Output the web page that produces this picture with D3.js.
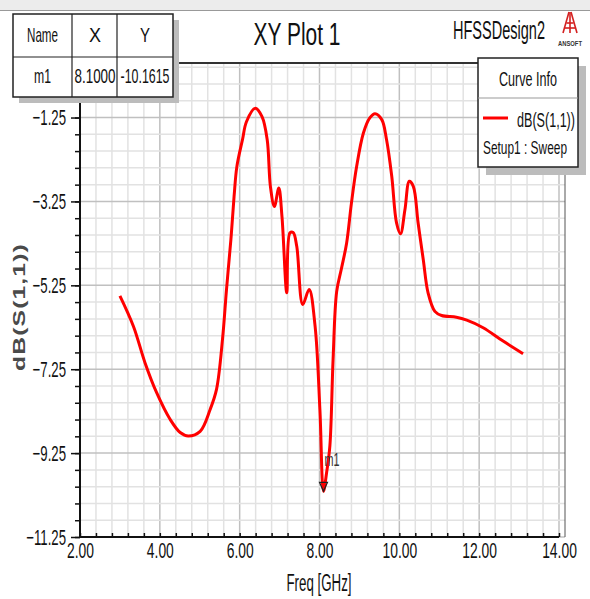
<!DOCTYPE html>
<html>
<head>
<meta charset="utf-8">
<script src="https://cdn.jsdelivr.net/npm/d3@7"></script>
<style>
  body { margin: 0; background: #fff; }
  svg { display: block; }
</style>
</head>
<body>
<svg id="chart"></svg>
<script>
// S11 curve
const freq = [3.00, 3.34, 3.63, 3.92, 4.26, 4.51, 4.71, 5.01, 5.26, 5.42, 5.57, 5.67, 5.78, 5.86, 5.93, 6.07, 6.17,
  6.39, 6.56, 6.69, 6.77, 6.87, 6.98, 7.06, 7.18, 7.26, 7.34, 7.43, 7.58, 7.74, 7.89, 8.01, 8.10, 8.18, 8.26,
  8.34, 8.43, 8.55, 8.68, 8.80, 8.93, 9.10, 9.26, 9.39, 9.56, 9.68, 9.81, 9.93, 10.03, 10.14, 10.25, 10.35,
  10.47, 10.60, 10.72, 10.89, 11.06, 11.43, 11.69, 12.10, 12.60, 13.10];
const s11 = [-5.50, -6.23, -7.10, -7.81, -8.45, -8.76, -8.84, -8.73, -8.21, -7.73, -6.54, -5.35, -4.16, -3.13, -2.42, -1.78, -1.35,
  -1.03, -1.23, -1.78, -2.89, -3.37, -2.93, -3.61, -5.43, -4.00, -3.99, -4.32, -5.71, -5.35, -6.23, -8.21, -10.16, -9.70, -9.08,
  -7.02, -5.40, -4.85, -4.24, -3.29, -2.42, -1.62, -1.26, -1.16, -1.30, -1.78, -2.65, -3.76, -4.02, -3.45, -2.77, -2.89,
  -3.76, -4.64, -5.43, -5.87, -5.97, -6.01, -6.08, -6.26, -6.58, -6.88];

const xTicks = [2, 4, 6, 8, 10, 12, 14];
const yTicks = [-1.25, -3.25, -5.25, -7.25, -9.25, -11.25];
const markerNames = ["m1"];
const markerX = [8.1];
const markerY = [-10.1615];

const W = 590, H = 599;
const pLeft = 80, pRight = 559, frameRight = 565, pTop = 63, pBottom = 537;
const font = "'Liberation Sans', Arial, sans-serif";

const svg = d3.select("#chart").attr("width", W).attr("height", H);

// the original uses a narrow font, so squeeze the glyphs horizontally
function squeeze(sel, k) {
  sel.each(function() {
    const len = this.getComputedTextLength();
    d3.select(this).attr("textLength", len * k).attr("lengthAdjust", "spacingAndGlyphs");
  });
  return sel;
}
// text squeezed to a given width in px
function label(parent, x0, y0, txt, size, w, anchor) {
  return parent.append("text").attr("x", x0).attr("y", y0).attr("text-anchor", anchor || "start")
    .attr("font-family", font).attr("font-size", size).attr("fill", "#111")
    .attr("textLength", w).attr("lengthAdjust", "spacingAndGlyphs").text(txt);
}

const x = d3.scaleLinear().domain([2, 14]).range([pLeft, pRight]);
const y = d3.scaleLinear().domain([-11.25, 0.05]).range([pBottom, pTop]);

// top grey band
svg.append("rect").attr("x", 0).attr("y", 0).attr("width", W).attr("height", 10).attr("fill", "#ececec");
svg.append("line").attr("x1", 0).attr("x2", W).attr("y1", 10.5).attr("y2", 10.5).attr("stroke", "#999");

// grid
const minorX = d3.range(2, 14.001, 0.4);
const minorY = d3.range(-11.25, 0.06, 0.4);
svg.append("g").selectAll("line").data(minorX).enter().append("line")
  .attr("x1", d => x(d)).attr("x2", d => x(d)).attr("y1", pTop).attr("y2", pBottom)
  .attr("stroke", d => xTicks.some(t => Math.abs(t - d) < 1e-6) ? "#c0c0c0" : "#e2e2e2")
  .attr("stroke-width", 1.5);
svg.append("g").selectAll("line").data(minorY).enter().append("line")
  .attr("x1", pLeft).attr("x2", frameRight).attr("y1", d => y(d)).attr("y2", d => y(d))
  .attr("stroke", d => yTicks.some(t => Math.abs(t - d) < 1e-6) ? "#c0c0c0" : "#e2e2e2")
  .attr("stroke-width", 1.5);

// frame
svg.append("line").attr("x1", pLeft).attr("x2", frameRight).attr("y1", pTop).attr("y2", pTop)
  .attr("stroke", "#333").attr("stroke-width", 2);
svg.append("line").attr("x1", frameRight).attr("x2", frameRight).attr("y1", pTop).attr("y2", pBottom)
  .attr("stroke", "#555").attr("stroke-width", 1);

// axes
svg.append("g").attr("transform", `translate(${pLeft},0)`)
  .call(d3.axisLeft(y).tickValues(minorY).tickSize(5).tickFormat(""))
  .call(g => g.select(".domain").remove())
  .call(g => g.selectAll("line").attr("stroke", "#111").attr("stroke-width", 1.5));
svg.append("g").attr("transform", `translate(${pLeft},0)`)
  .call(d3.axisLeft(y).tickValues(yTicks).tickSize(9).tickFormat(d3.format(".2f")))
  .call(g => g.select(".domain").remove())
  .call(g => g.selectAll("line").attr("stroke", "#111").attr("stroke-width", 1.5))
  .call(g => squeeze(g.selectAll("text").attr("font-family", font).attr("font-size", 22)
    .attr("fill", "#111").attr("x", -14), 0.6));

svg.append("g").attr("transform", `translate(0,${pBottom})`)
  .call(d3.axisTop(x).tickValues(minorX).tickSize(4).tickFormat(""))
  .call(g => g.select(".domain").remove())
  .call(g => g.selectAll("line").attr("stroke", "#111").attr("stroke-width", 1.5));
svg.append("g").attr("transform", `translate(0,${pBottom})`)
  .call(d3.axisBottom(x).tickValues(xTicks).tickSize(0).tickFormat(d3.format(".2f")))
  .call(g => g.select(".domain").remove())
  .call(g => squeeze(g.selectAll("text").attr("font-family", font).attr("font-size", 22)
    .attr("fill", "#111").attr("y", 21).attr("dy", 0), 0.63));

svg.append("line").attr("x1", pLeft).attr("x2", pLeft).attr("y1", pTop).attr("y2", pBottom + 1)
  .attr("stroke", "#111").attr("stroke-width", 2);
svg.append("line").attr("x1", pLeft).attr("x2", pRight).attr("y1", pBottom).attr("y2", pBottom)
  .attr("stroke", "#111").attr("stroke-width", 2);

// curve
const pts = freq.map((f, i) => [f, s11[i]]);
svg.append("path").datum(pts)
  .attr("d", d3.line().x(d => x(d[0])).y(d => y(d[1])).curve(d3.curveCatmullRom.alpha(0.5)))
  .attr("fill", "none").attr("stroke", "#ff0000").attr("stroke-width", 3).attr("stroke-linejoin", "round");

// marker
markerNames.forEach((n, i) => {
  const mx = x(markerX[i]), my = y(markerY[i]);
  svg.append("path").attr("d", `M${mx - 4},${my - 9}L${mx + 4},${my - 9}L${mx},${my}Z`)
    .attr("fill", "none").attr("stroke", "#222").attr("stroke-width", 1.2);
  label(svg, mx + 1, my - 25, n, 19, 15).attr("fill", "#333");
});

// title and design name
label(svg, 297, 45, "XY Plot 1", 31, 87, "middle");
label(svg, 499, 39, "HFSSDesign2", 25, 92, "middle");

// ansoft logo
const logo = svg.append("g").attr("transform", "translate(570,12)");
[[-1, 0, -7, 21], [0, 0, 0, 21], [1, 0, 7, 21], [-3.5, 11, 3.5, 11], [-5, 16, 5, 16]].forEach(l => {
  logo.append("line").attr("x1", l[0]).attr("y1", l[1]).attr("x2", l[2]).attr("y2", l[3])
    .attr("stroke", "#d42020").attr("stroke-width", 1.6);
});
label(logo, 0, 34, "ANSOFT", 8, 24, "middle").attr("font-weight", "bold").attr("fill", "#333");

// axis titles
svg.append("text").attr("transform", "translate(25,307) rotate(-90) scale(1.45,1)").attr("text-anchor", "middle")
  .attr("font-family", font).attr("font-size", 17).attr("font-weight", "bold")
  .attr("letter-spacing", 0.8).attr("fill", "#4a4a4a").text("dB(S(1,1))");
label(svg, 319, 591, "Freq [GHz]", 23, 65, "middle");

// marker table
const tb = svg.append("g");
tb.append("rect").attr("x", 19).attr("y", 20).attr("width", 160).attr("height", 83).attr("fill", "#bcbcbc");
tb.append("rect").attr("x", 13).attr("y", 14).attr("width", 160).attr("height", 83)
  .attr("fill", "#fff").attr("stroke", "#222").attr("stroke-width", 1.5);
tb.append("line").attr("x1", 13).attr("x2", 173).attr("y1", 57).attr("y2", 57).attr("stroke", "#222").attr("stroke-width", 1.2);
[72, 117].forEach(cx => tb.append("line").attr("x1", cx).attr("x2", cx).attr("y1", 14).attr("y2", 97)
  .attr("stroke", "#222").attr("stroke-width", 1.2));
const colMid = [42.5, 95, 145];
const headW = [31, 12, 10];
const cellW = [17, 41, 49];
["Name", "X", "Y"].forEach((t, i) => label(tb, colMid[i], 42, t, 21, headW[i], "middle"));
[markerNames[0], markerX[0].toFixed(4), markerY[0].toFixed(4)].forEach((t, i) =>
  label(tb, colMid[i], 83, t, 21, cellW[i], "middle"));

// legend
const lg = svg.append("g");
lg.append("rect").attr("x", 486).attr("y", 66).attr("width", 100).attr("height", 109).attr("fill", "#bcbcbc");
lg.append("rect").attr("x", 478).attr("y", 58).attr("width", 100).attr("height", 109)
  .attr("fill", "#fff").attr("stroke", "#222").attr("stroke-width", 1.5);
lg.append("line").attr("x1", 478).attr("x2", 578).attr("y1", 98).attr("y2", 98).attr("stroke", "#999").attr("stroke-width", 1);
label(lg, 528, 86, "Curve Info", 20, 58, "middle");
lg.append("line").attr("x1", 483).attr("x2", 508).attr("y1", 118).attr("y2", 118).attr("stroke", "#ff0000").attr("stroke-width", 3);
label(lg, 575, 127, "dB(S(1,1))", 20, 58, "end");
label(lg, 483, 154, "Setup1 : Sweep", 19, 84);
</script>
</body>
</html>
